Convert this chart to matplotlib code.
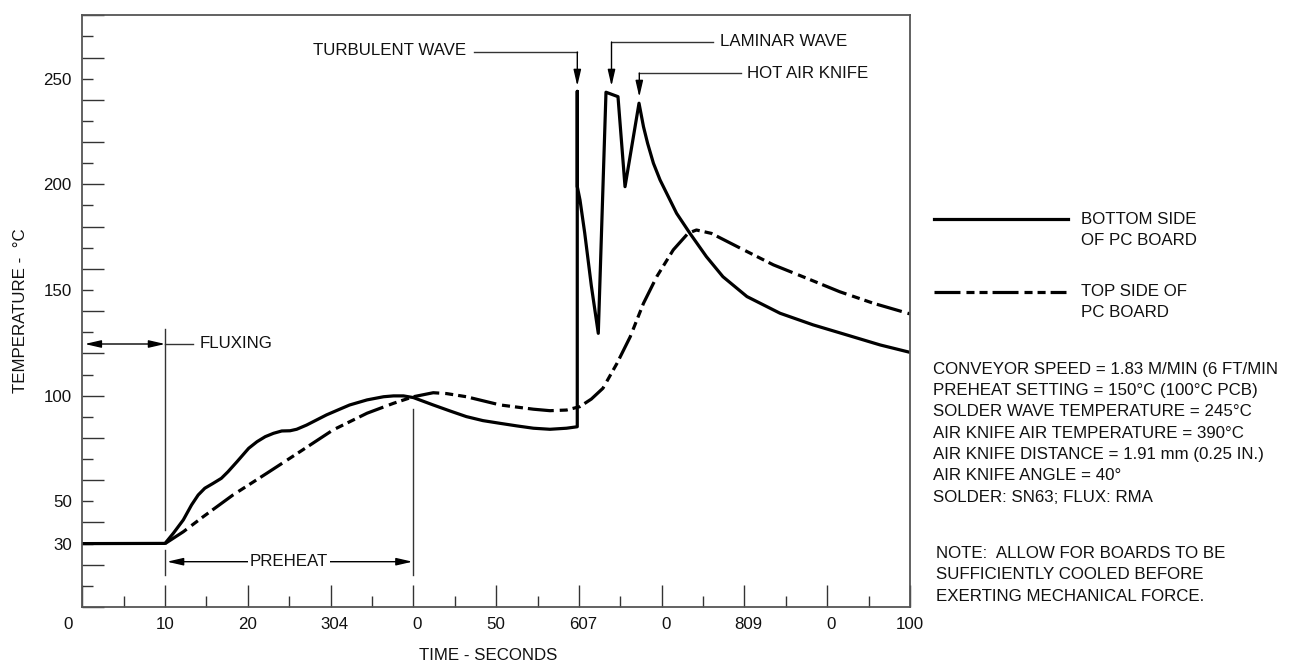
import matplotlib
matplotlib.use('Agg')
import matplotlib.pyplot as plt
from matplotlib.lines import Line2D
from matplotlib.ticker import MultipleLocator, FixedLocator, FixedFormatter, FuncFormatter
import matplotlib.transforms as mtransforms

plt.rcParams['font.family'] = ['Liberation Sans', 'DejaVu Sans']
plt.rcParams['lines.scale_dashes'] = False

# ---------------- data ----------------
bottom_time = [0, 10.0, 11.0, 12.2, 13.2, 14.0, 14.8, 15.8, 16.8, 17.6, 18.7, 20.1, 21.1, 22.1,
               23.1, 24.1, 25.1, 25.9, 27.1, 28.3, 29.5, 31.1, 32.3, 34.4, 36.4, 37.6, 38.8,
               40.0, 42.4, 44.4, 46.4, 48.4, 50.5, 52.5, 54.5, 56.5, 58.5, 59.8,
               59.8, 59.8, 60.13, 60.7, 61.5, 62.34, 63.27, 64.72, 65.57, 67.26, 67.8, 68.3,
               69.0, 69.8, 70.8, 71.8, 73.4, 75.4, 77.4, 80.3, 84.3, 88.3, 92.4, 96.4, 100]
bottom_temp = [30, 30.1, 34.9, 41.2, 48.3, 53.0, 56.2, 58.5, 60.9, 64.0, 68.8, 75.1, 78.2, 80.6,
               82.2, 83.3, 83.4, 84.1, 86.1, 88.5, 90.9, 93.6, 95.6, 98.0, 99.5, 99.9, 99.9,
               99.1, 95.6, 92.8, 90.1, 88.2, 86.9, 85.7, 84.6, 84.1, 84.6, 85.3,
               244.0, 199.0, 192.6, 177.0, 152.0, 129.5, 243.6, 241.5, 198.9, 238.4, 227.3, 219.4,
               210.0, 202.1, 194.2, 186.3, 176.9, 165.8, 156.3, 146.9, 139.0, 133.5, 128.7, 124.0, 120.5]

top_time = [10, 12.2, 14.6, 18.2, 22.3, 26.3, 30.3, 34.4, 37.6, 40.0, 42.4, 44.0, 46.4, 50.5,
            54.5, 56.5, 58.5, 60.1, 61.5, 62.9, 64.6, 66.2, 67.8, 69.4, 71.4, 73.2, 74.2, 76.0,
            79.5, 83.5, 87.5, 91.5, 95.6, 100]
top_temp = [30, 35.6, 42.7, 53.0, 63.3, 73.5, 83.8, 91.7, 96.4, 99.5, 101.4, 101.0, 99.5, 95.6,
            93.6, 92.9, 93.2, 94.8, 98.4, 103.5, 115.3, 127.9, 143.7, 156.3, 169.0, 176.9, 178.4, 176.8,
            169.8, 161.9, 155.6, 149.2, 143.7, 138.7]

xtick_values = [0, 10, 20, 30, 40, 50, 60, 70, 80, 90, 100]
xtick_labels = ['0', '10', '20', '304', '0', '50', '607', '0', '809', '0', '100']
ytick_labeled = [30, 50, 100, 150, 200, 250]

conditions = ['CONVEYOR SPEED = 1.83 M/MIN (6 FT/MIN',
              'PREHEAT SETTING = 150°C (100°C PCB)',
              'SOLDER WAVE TEMPERATURE = 245°C',
              'AIR KNIFE AIR TEMPERATURE = 390°C',
              'AIR KNIFE DISTANCE = 1.91 mm (0.25 IN.)',
              'AIR KNIFE ANGLE = 40°',
              'SOLDER: SN63; FLUX: RMA']
note_lines = ['NOTE:  ALLOW FOR BOARDS TO BE',
              'SUFFICIENTLY COOLED BEFORE',
              'EXERTING MECHANICAL FORCE.']

# ---------------- layout ----------------
W, H = 1292, 664
L, R, T, B = 82.3, 910.0, 15.3, 607.0
FS = 12.2
INK = '#111111'
THIN = '#333333'
DASH = (0, (18.7, 4.3, 5.8, 3.6, 5.8, 3.6))

fig = plt.figure(figsize=(W / 100, H / 100), dpi=100)
ax = fig.add_axes([L / W, 1 - B / H, (R - L) / W, (B - T) / H])
ax.set_xlim(0, 100)
ax.set_ylim(0, 280)


def fx(px):
    return px / W


def fy(py):
    return 1 - py / H


def dx(px):
    return (px - L) / (R - L) * 100


def dy(py):
    return (B - py) / (B - T) * 280


for s in ax.spines.values():
    s.set_color('#555555')
    s.set_linewidth(1.3)

# curves
ax.plot(bottom_time, bottom_temp, color='black', lw=2.3, solid_joinstyle='round')
ax.plot(top_time, top_temp, color='black', lw=2.3, linestyle=DASH)

# ticks
ax.xaxis.set_major_locator(FixedLocator(xtick_values))
ax.xaxis.set_major_formatter(FixedFormatter(xtick_labels))
ax.xaxis.set_minor_locator(MultipleLocator(5))
ax.yaxis.set_major_locator(MultipleLocator(20))
ax.yaxis.set_minor_locator(FixedLocator(list(range(10, 280, 20))))
yfmt = FuncFormatter(lambda v, p: str(int(round(v))) if int(round(v)) in ytick_labeled else '')
ax.yaxis.set_major_formatter(yfmt)
ax.yaxis.set_minor_formatter(yfmt)
ax.tick_params(axis='both', which='major', direction='in', length=15.8, width=1.0,
               color=THIN, labelsize=FS, labelcolor=INK)
ax.tick_params(axis='both', which='minor', direction='in', length=7.9, width=1.0,
               color=THIN, labelsize=FS, labelcolor=INK)
ax.tick_params(axis='x', which='both', pad=7)
ax.tick_params(axis='y', which='both', pad=7.6)

xoffs = [-14.6, 0, 0, 4.3, 3.4, 0, 4.5, 4, 4, 4, 0]
for lab, off in zip(ax.get_xticklabels(), xoffs):
    lab.set_transform(lab.get_transform() + mtransforms.ScaledTranslation(off / 100, 0, fig.dpi_scale_trans))

# axis titles
fig.text(fx(20.5), fy(311), 'TEMPERATURE -  °C', rotation=90, ha='center', va='center',
         fontsize=FS, color=INK)
fig.text(fx(488), fy(655), 'TIME - SECONDS', ha='center', va='center', fontsize=FS, color=INK)

# ---------------- annotations ----------------
aprops = dict(arrowstyle='-|>,head_length=0.65,head_width=0.15', color='black', lw=1.0,
              shrinkA=0, shrinkB=0, mutation_scale=15)
dprops = dict(arrowstyle='<|-|>,head_length=0.65,head_width=0.15', color='black', lw=1.0,
              shrinkA=0, shrinkB=0, mutation_scale=15)

# turbulent wave
ax.text(dx(313.3), dy(50.7), 'TURBULENT WAVE', ha='left', va='center', fontsize=FS, color=INK)
ax.plot([dx(474), dx(577.3)], [dy(52), dy(52)], color=THIN, lw=1.0)
ax.annotate('', xy=(dx(577.3), dy(86)), xytext=(dx(577.3), dy(52)), arrowprops=aprops)
# laminar wave
ax.text(dx(720.2), dy(42), 'LAMINAR WAVE', ha='left', va='center', fontsize=FS, color=INK)
ax.plot([dx(611.5), dx(713.4)], [dy(42), dy(42)], color=THIN, lw=1.0)
ax.annotate('', xy=(dx(611.5), dy(86)), xytext=(dx(611.5), dy(42)), arrowprops=aprops)
# hot air knife
ax.text(dx(747.1), dy(73), 'HOT AIR KNIFE', ha='left', va='center', fontsize=FS, color=INK)
ax.plot([dx(639.3), dx(741)], [dy(73), dy(73)], color=THIN, lw=1.0)
ax.annotate('', xy=(dx(639.3), dy(97)), xytext=(dx(639.3), dy(73)), arrowprops=aprops)

# fluxing
ax.annotate('', xy=(0.3, dy(344)), xytext=(10, dy(344)), arrowprops=dprops)
ax.plot([10, dx(193.3)], [dy(344), dy(344)], color=THIN, lw=1.0)
ax.text(dx(200), dy(344), 'FLUXING', ha='left', va='center', fontsize=FS, color=INK)
ax.plot([10, 10], [dy(329.3), dy(530)], color=THIN, lw=1.0)

# preheat
ax.plot([10, 10], [dy(550), dy(575)], color=THIN, lw=1.0)
ax.plot([40, 40], [dy(575), dy(409.3)], color=THIN, lw=1.0)
ax.annotate('', xy=(dx(167), dy(561.7)), xytext=(dx(412.5), dy(561.7)), arrowprops=dprops)
ax.text(dx(289), dy(561.7), 'PREHEAT', ha='center', va='center', fontsize=FS, color=INK,
        bbox=dict(facecolor='white', edgecolor='none', pad=1.5))

# ---------------- legend & notes (outside) ----------------
fig.add_artist(Line2D([fx(934), fx(1068)], [fy(219), fy(219)], color='black', lw=2.3,
                      transform=fig.transFigure))
fig.add_artist(Line2D([fx(934), fx(1066)], [fy(291.7), fy(291.7)], color='black', lw=2.3,
                      linestyle=DASH, transform=fig.transFigure))
for i, t in enumerate(['BOTTOM SIDE', 'OF PC BOARD']):
    fig.text(fx(1081), fy(219 + 21 * i), t, ha='left', va='center', fontsize=FS, color=INK)
for i, t in enumerate(['TOP SIDE OF', 'PC BOARD']):
    fig.text(fx(1081), fy(291.7 + 20.6 * i), t, ha='left', va='center', fontsize=FS, color=INK)
for i, t in enumerate(conditions):
    fig.text(fx(932.7), fy(369.3 + 21.3 * i), t, ha='left', va='center', fontsize=FS, color=INK)
for i, t in enumerate(note_lines):
    fig.text(fx(936), fy(553.3 + 21.4 * i), t, ha='left', va='center', fontsize=FS, color=INK)

fig.savefig('out.png', dpi=100, facecolor='white')
